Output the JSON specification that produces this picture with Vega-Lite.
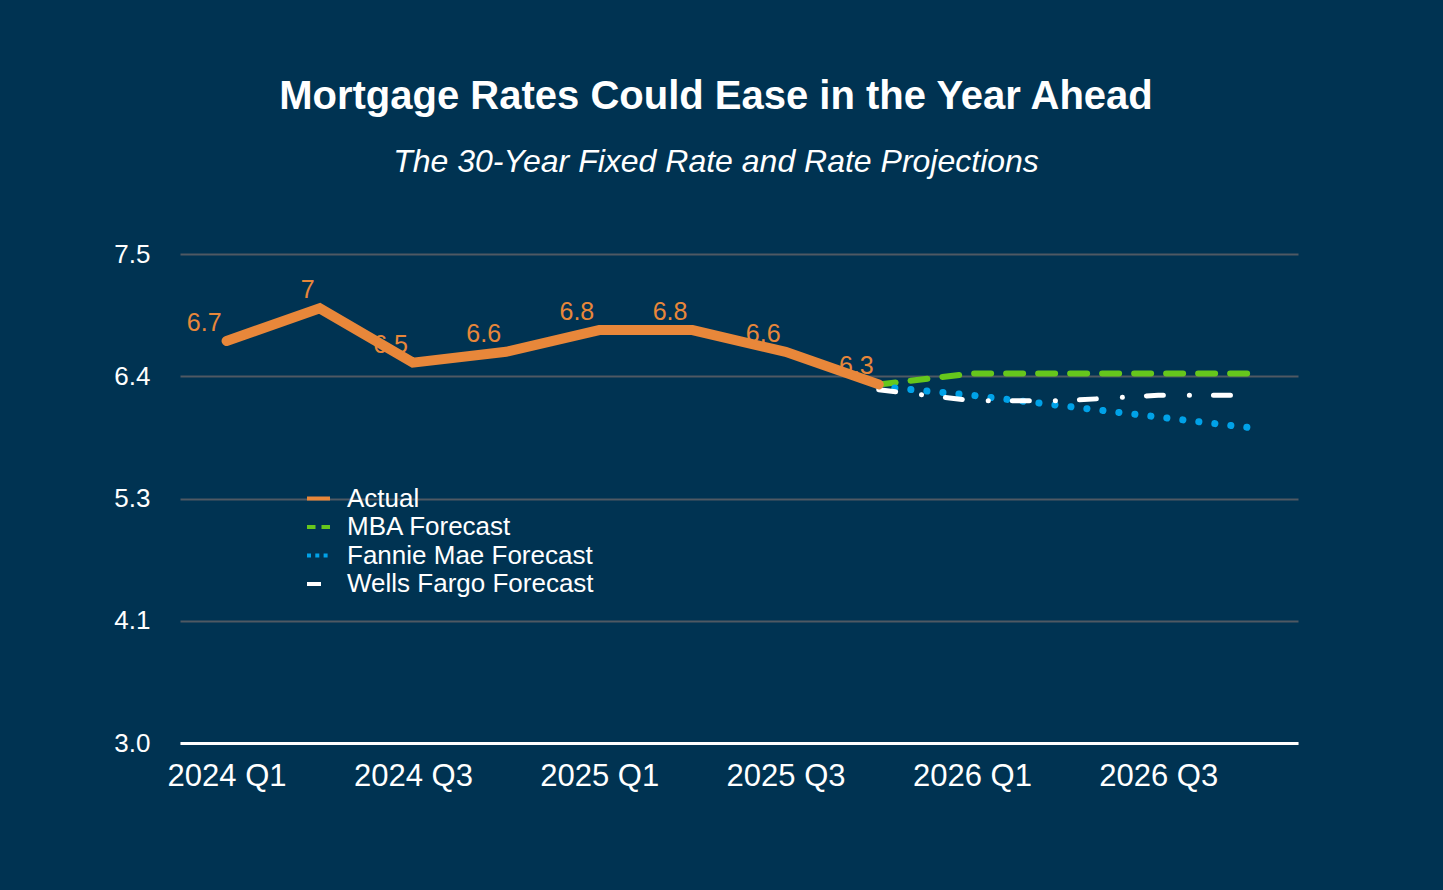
{
  "$schema": "https://vega.github.io/schema/vega-lite/v6.json",
  "autosize": {"type": "none"},
  "width": 1118,
  "height": 489,
  "padding": {"left": 180, "top": 254, "right": 145, "bottom": 147},
  "background": "#003352",
  "title": {
    "text": "Mortgage Rates Could Ease in the Year Ahead",
    "subtitle": "The 30-Year Fixed Rate and Rate Projections",
    "anchor": "middle",
    "dx": -23,
    "offset": 63,
    "font": "Liberation Sans",
    "fontSize": 40,
    "fontWeight": "bold",
    "color": "#ffffff",
    "subtitleFont": "Liberation Sans",
    "subtitleFontSize": 32,
    "subtitleFontStyle": "italic",
    "subtitleColor": "#ffffff",
    "subtitlePadding": 30
  },
  "config": {
    "view": {"stroke": null},
    "font": "Liberation Sans"
  },
  "data": {
    "values": [
      {"quarter": "2024 Q1", "series": "Actual", "value": 6.7},
      {"quarter": "2024 Q2", "series": "Actual", "value": 7.0},
      {"quarter": "2024 Q3", "series": "Actual", "value": 6.5},
      {"quarter": "2024 Q4", "series": "Actual", "value": 6.6},
      {"quarter": "2025 Q1", "series": "Actual", "value": 6.8},
      {"quarter": "2025 Q2", "series": "Actual", "value": 6.8},
      {"quarter": "2025 Q3", "series": "Actual", "value": 6.6},
      {"quarter": "2025 Q4", "series": "Actual", "value": 6.3},
      {"quarter": "2025 Q4", "series": "MBA Forecast", "value": 6.3},
      {"quarter": "2026 Q1", "series": "MBA Forecast", "value": 6.4},
      {"quarter": "2026 Q2", "series": "MBA Forecast", "value": 6.4},
      {"quarter": "2026 Q3", "series": "MBA Forecast", "value": 6.4},
      {"quarter": "2026 Q4", "series": "MBA Forecast", "value": 6.4},
      {"quarter": "2025 Q4", "series": "Fannie Mae Forecast", "value": 6.28},
      {"quarter": "2026 Q1", "series": "Fannie Mae Forecast", "value": 6.2},
      {"quarter": "2026 Q2", "series": "Fannie Mae Forecast", "value": 6.1},
      {"quarter": "2026 Q3", "series": "Fannie Mae Forecast", "value": 6.0},
      {"quarter": "2026 Q4", "series": "Fannie Mae Forecast", "value": 5.9},
      {"quarter": "2025 Q4", "series": "Wells Fargo Forecast", "value": 6.25},
      {"quarter": "2026 Q1", "series": "Wells Fargo Forecast", "value": 6.15},
      {"quarter": "2026 Q2", "series": "Wells Fargo Forecast", "value": 6.15},
      {"quarter": "2026 Q3", "series": "Wells Fargo Forecast", "value": 6.2},
      {"quarter": "2026 Q4", "series": "Wells Fargo Forecast", "value": 6.2}
    ]
  },
  "encoding": {
    "x": {
      "field": "quarter",
      "type": "ordinal",
      "scale": {
        "type": "point",
        "padding": 0.5,
        "domain": ["2024 Q1", "2024 Q2", "2024 Q3", "2024 Q4", "2025 Q1", "2025 Q2", "2025 Q3", "2025 Q4", "2026 Q1", "2026 Q2", "2026 Q3", "2026 Q4"]
      },
      "axis": {
        "title": null,
        "values": ["2024 Q1", "2024 Q3", "2025 Q1", "2025 Q3", "2026 Q1", "2026 Q3"],
        "labelAngle": 0,
        "labelFontSize": 31,
        "labelColor": "#ffffff",
        "labelPadding": 18,
        "ticks": false,
        "domainColor": "#ffffff",
        "domainWidth": 3,
        "grid": false
      }
    },
    "y": {
      "field": "value",
      "type": "quantitative",
      "scale": {"domain": [3, 7.5], "nice": false, "zero": false},
      "axis": {
        "title": null,
        "values": [3, 4.125, 5.25, 6.375, 7.5],
        "format": ".1f",
        "labelFontSize": 26,
        "labelColor": "#ffffff",
        "labelPadding": 30,
        "ticks": false,
        "domain": false,
        "grid": true,
        "gridColor": "#4f5963",
        "gridWidth": 2
      }
    },
    "color": {
      "field": "series",
      "type": "nominal",
      "scale": {
        "domain": ["Actual", "MBA Forecast", "Fannie Mae Forecast", "Wells Fargo Forecast"],
        "range": ["#E8873A", "#66C71C", "#00A2E8", "#FFFFFF"]
      },
      "legend": {
        "title": null,
        "orient": "none",
        "legendX": 125,
        "legendY": 231,
        "labelFontSize": 26,
        "labelColor": "#ffffff",
        "labelOffset": 15,
        "labelLimit": 0,
        "symbolType": "stroke",
        "symbolSize": 529,
        "symbolStrokeWidth": 4,
        "rowPadding": 1.5,
        "encode": {
          "symbols": {
            "update": {
              "strokeCap": {"value": "butt"},
              "strokeWidth": {"value": 4},
              "strokeDash": {"signal": "datum.value === 'MBA Forecast' ? [8.5, 6] : datum.value === 'Fannie Mae Forecast' ? [4, 4.3] : datum.value === 'Wells Fargo Forecast' ? [14, 30] : [1, 0]"}
            }
          }
        }
      }
    }
  },
  "layer": [
    {
      "transform": [{"filter": "datum.series === 'MBA Forecast'"}],
      "mark": {"type": "line", "strokeCap": "round", "strokeWidth": 6, "strokeDash": [17, 15]}
    },
    {
      "transform": [{"filter": "datum.series === 'Fannie Mae Forecast'"}],
      "mark": {"type": "line", "strokeCap": "round", "strokeWidth": 7, "strokeDash": [0.1, 16]}
    },
    {
      "transform": [{"filter": "datum.series === 'Wells Fargo Forecast'"}],
      "mark": {"type": "line", "strokeCap": "round", "strokeWidth": 5, "strokeDash": [17, 26, 0.1, 24]}
    },
    {
      "transform": [{"filter": "datum.series === 'Actual'"}],
      "mark": {"type": "line", "strokeCap": "round", "strokeWidth": 10}
    },
    {
      "transform": [{"filter": "datum.series === 'Actual'"}],
      "mark": {"type": "text", "align": "right", "baseline": "middle", "dx": -5, "dy": -18, "fontSize": 25, "color": "#E8873A"},
      "encoding": {
        "color": {"value": "#E8873A"},
        "text": {"field": "value", "type": "quantitative", "format": "~g"}
      }
    }
  ]
}
